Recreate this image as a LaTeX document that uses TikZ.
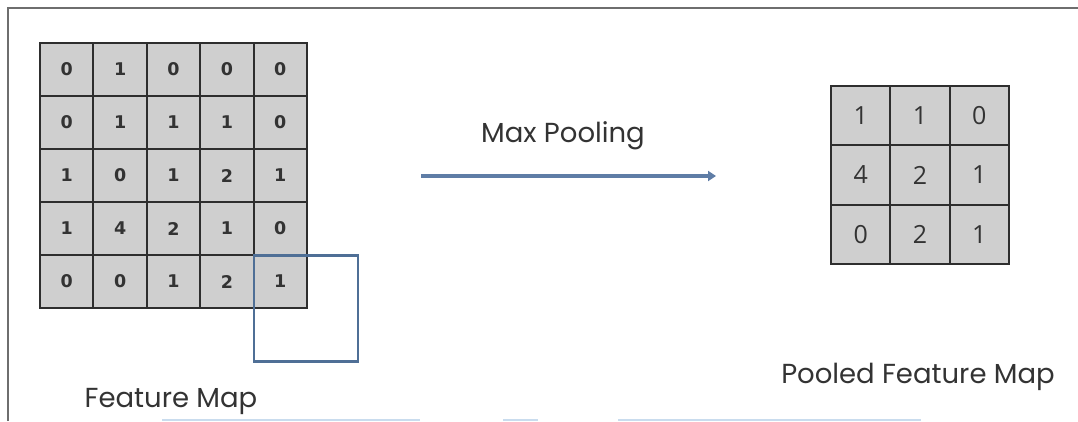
\documentclass[tikz,border=0pt]{standalone}
\usepackage{fontspec}
\setmainfont{Poppins}
\newfontfamily\cellfont{DejaVu Sans}
\newfontfamily\bigcellfont{Open Sans}
\usetikzlibrary{arrows.meta}
\definecolor{framegray}{HTML}{6E6E6E}
\definecolor{cellgray}{HTML}{CFCFCF}
\definecolor{gridline}{HTML}{2E2E2E}
\definecolor{poolblue}{HTML}{4F6F96}
\definecolor{arrowblue}{HTML}{5F7DA6}
\definecolor{textgray}{HTML}{333333}
\definecolor{faintblue}{HTML}{C9DCEE}
\tikzset{
  smallcell/.style={draw=gridline, line width=2pt, fill=cellgray, inner sep=0pt,
    minimum width=53.4pt, minimum height=53pt, anchor=north west,
    font=\cellfont\bfseries\fontsize{17.5}{17.5}\selectfont, text=textgray},
  bigcell/.style={draw=gridline, line width=2pt, fill=cellgray, inner sep=0pt,
    minimum width=59.3pt, minimum height=59.3pt, anchor=north west,
    font=\bigcellfont\fontsize{25}{25}\selectfont, text=textgray},
  caption/.style={font=\fontsize{27.5}{27.5}\selectfont, text=textgray, inner sep=0pt, anchor=base},
  window/.style={draw=poolblue, line width=2.6pt, minimum width=104pt, minimum height=106pt,
    anchor=north west, inner sep=0pt},
}
\begin{document}
\begin{tikzpicture}[x=1pt, y=-1pt]
\useasboundingbox (0,0) rectangle (1078,421);
% outer frame (top and left edges)
\draw[framegray, line width=1.8pt] (8,421) -- (8,8) -- (1078,8);

% 5x5 feature map
\foreach \row [count=\i from 0] in {{0,1,0,0,0},{0,1,1,1,0},{1,0,1,2,1},{1,4,2,1,0},{0,0,1,2,1}} {
  \foreach \v [count=\j from 0] in \row {
    \node[smallcell] (f-\i-\j) at (39+53.4*\j, 42+53*\i) {\v};
  }
}
% pooling window overlapping the last cell
\node[window] (win) at (f-4-4.north west) {};
\node[caption] (fmlabel) at (171,407) {Feature Map};

% arrow with its label
\coordinate (arrowstart) at (421,176);
\coordinate (arrowend) at (716,176);
\draw[arrowblue, line width=3.4pt, -{Triangle[length=8pt,width=10pt]}] (arrowstart) -- (arrowend);
\node[caption] (mplabel) at (563,142.5) {Max Pooling};

% 3x3 pooled map
\foreach \row [count=\i from 0] in {{1,1,0},{4,2,1},{0,2,1}} {
  \foreach \v [count=\j from 0] in \row {
    \node[bigcell] (p-\i-\j) at (830+59.3*\j, 85+59.3*\i) {\v};
  }
}
\node[caption] (pfmlabel) at (918,383) {Pooled Feature Map};

% faint strips along the lower edge
\draw[faintblue, line width=1.2pt] (162,420) -- (420,420);
\draw[faintblue, line width=1.2pt] (503,420) -- (538,420);
\draw[faintblue, line width=1.2pt] (618,420) -- (921,420);
\end{tikzpicture}
\end{document}
